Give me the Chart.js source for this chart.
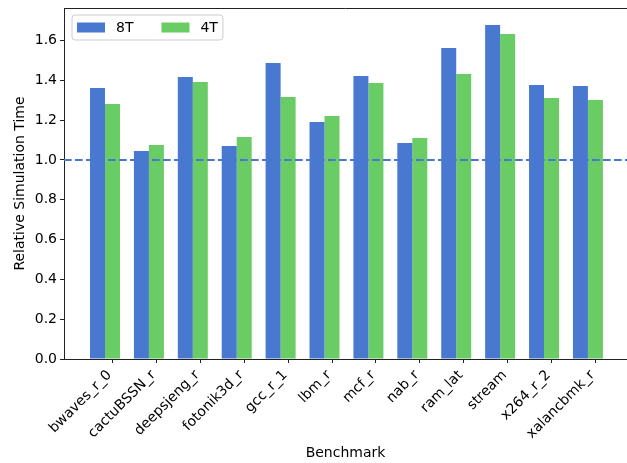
<!DOCTYPE html>
<html>
<head>
<meta charset="utf-8">
<script src="https://cdn.jsdelivr.net/npm/chart.js@4/dist/chart.umd.min.js"></script>
<style>
  html, body { margin: 0; padding: 0; background: #ffffff; }
  #wrap { width: 627px; height: 463px; }
</style>
</head>
<body>
<div id="wrap"><canvas id="chart" width="627" height="463"></canvas></div>
<script>
// Benchmarks and relative simulation time for each thread count
const benchmarks = ['bwaves_r_0', 'cactuBSSN_r', 'deepsjeng_r', 'fotonik3d_r', 'gcc_r_1', 'lbm_r',
                    'mcf_r', 'nab_r', 'ram_lat', 'stream', 'x264_r_2', 'xalancbmk_r'];
const time8T = [1.362, 1.045, 1.417, 1.070, 1.487, 1.191, 1.422, 1.085, 1.563, 1.678, 1.377, 1.372];
const time4T = [1.281, 1.075, 1.392, 1.116, 1.317, 1.221, 1.387, 1.111, 1.432, 1.633, 1.312, 1.302];
const yTicks = [0.0, 0.2, 0.4, 0.6, 0.8, 1.0, 1.2, 1.4, 1.6];
const baselineValue = 1.0;

const BLUE = '#4878CF';
const GREEN = '#6ACC65';
const FONT = 'DejaVu Sans';
const GROUP = 0.683;           // fraction of each slot covered by the pair of bars
const TICK_SHIFT = GROUP / 4;  // ticks sit under the second bar of each pair

const toPoints = vals => vals.map((v, i) => ({ x: i, y: v }));

// Frame line along the top of the plot area (left/bottom come from the axes)
const frame = {
  id: 'frame',
  afterDraw(chart) {
    const { ctx, chartArea: a } = chart;
    ctx.save();
    ctx.strokeStyle = '#222';
    ctx.lineWidth = 1;
    ctx.beginPath();
    ctx.moveTo(a.left, a.top + 0.5);
    ctx.lineTo(a.right, a.top + 0.5);
    ctx.stroke();
    ctx.restore();
  }
};

// Dashed reference line at the baseline value
const baseline = {
  id: 'baseline',
  afterDatasetsDraw(chart) {
    const { ctx, chartArea: a, scales } = chart;
    const y = scales.y.getPixelForValue(baselineValue);
    ctx.save();
    ctx.strokeStyle = BLUE;
    ctx.lineWidth = 2;
    ctx.setLineDash([7.7, 3.3]);
    ctx.beginPath();
    ctx.moveTo(a.left, y);
    ctx.lineTo(a.right, y);
    ctx.stroke();
    ctx.restore();
  }
};

// Boxed legend in the upper-left corner of the plot area
const boxLegend = {
  id: 'boxLegend',
  afterDraw(chart) {
    const { ctx, chartArea: a } = chart;
    const sets = chart.data.datasets;
    ctx.save();
    ctx.font = '14px "' + FONT + '"';
    const patchW = 28, patchH = 10, pad = 5, gap = 11, colGap = 28;
    const x0 = a.left + 8, y0 = a.top + 7, h = 25;
    let w = pad * 2;
    sets.forEach((d, i) => {
      w += patchW + gap + ctx.measureText(d.label).width;
      if (i < sets.length - 1) w += colGap;
    });
    const r = 3;
    ctx.beginPath();
    ctx.moveTo(x0 + r, y0);
    ctx.arcTo(x0 + w, y0, x0 + w, y0 + h, r);
    ctx.arcTo(x0 + w, y0 + h, x0, y0 + h, r);
    ctx.arcTo(x0, y0 + h, x0, y0, r);
    ctx.arcTo(x0, y0, x0 + w, y0, r);
    ctx.closePath();
    ctx.fillStyle = 'rgba(255,255,255,0.8)';
    ctx.fill();
    ctx.strokeStyle = '#cccccc';
    ctx.lineWidth = 1;
    ctx.stroke();
    let x = x0 + pad;
    const cy = y0 + h / 2;
    ctx.textBaseline = 'middle';
    sets.forEach(d => {
      ctx.fillStyle = d.backgroundColor;
      ctx.fillRect(x, cy - patchH / 2, patchW, patchH);
      x += patchW + gap;
      ctx.fillStyle = '#000';
      ctx.fillText(d.label, x, cy + 1);
      x += ctx.measureText(d.label).width + colGap;
    });
    ctx.restore();
  }
};

new Chart(document.getElementById('chart'), {
  type: 'bar',
  data: {
    datasets: [
      { label: '8T', data: toPoints(time8T), backgroundColor: BLUE, borderWidth: 0 },
      { label: '4T', data: toPoints(time4T), backgroundColor: GREEN, borderWidth: 0 }
    ]
  },
  options: {
    responsive: false,
    animation: false,
    devicePixelRatio: 1,
    categoryPercentage: GROUP,
    barPercentage: 1.0,
    layout: { padding: { top: 8, right: 0, left: 0, bottom: 0 } },
    plugins: { legend: { display: false }, tooltip: { enabled: false } },
    scales: {
      x: {
        type: 'linear',
        offset: false,
        min: -0.934,
        max: 11.89,
        afterBuildTicks(scale) {
          scale.ticks = benchmarks.map((b, i) => ({ value: i + TICK_SHIFT }));
        },
        afterFit(scale) {
          scale.height = 104;
          scale.paddingLeft = 0;
          scale.paddingRight = 0;
        },
        grid: { offset: false, drawOnChartArea: false, tickLength: 4, tickColor: '#222', tickWidth: 1 },
        border: { display: true, color: '#222', width: 1 },
        ticks: {
          autoSkip: false,
          minRotation: 45,
          maxRotation: 45,
          padding: 4,
          labelOffset: -3,
          color: '#000',
          font: { family: FONT, size: 14 },
          callback: (v, i) => benchmarks[i]
        },
        title: {
          display: true,
          text: 'Benchmark',
          color: '#000',
          font: { family: FONT, size: 14 },
          padding: { top: 0, bottom: 1 }
        }
      },
      y: {
        min: 0,
        max: 1.7638,
        afterBuildTicks(scale) {
          scale.ticks = yTicks.map(v => ({ value: v }));
        },
        afterFit(scale) {
          scale.width = 64;
          scale.paddingTop = 0;
          scale.paddingBottom = 0;
        },
        grid: { drawOnChartArea: false, tickLength: 4, tickColor: '#222', tickWidth: 1 },
        border: { display: true, color: '#222', width: 1 },
        ticks: {
          padding: 3,
          color: '#000',
          font: { family: FONT, size: 14 },
          callback: v => Number(v).toFixed(1)
        },
        title: {
          display: true,
          text: 'Relative Simulation Time',
          color: '#000',
          font: { family: FONT, size: 14 },
          padding: { top: 12, bottom: 0 }
        }
      }
    }
  },
  plugins: [frame, baseline, boxLegend]
});
</script>
</body>
</html>
